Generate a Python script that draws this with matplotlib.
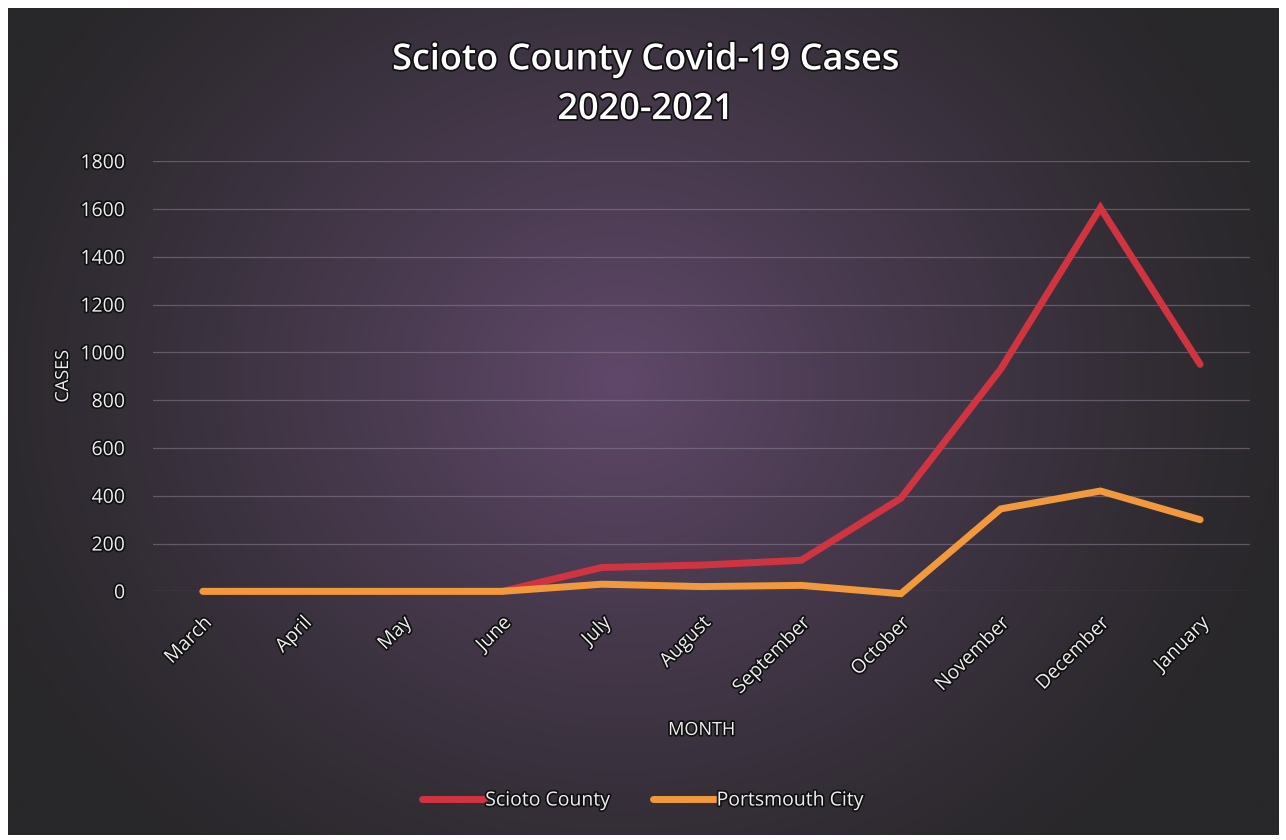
import numpy as np
import matplotlib
matplotlib.use("Agg")
import matplotlib.pyplot as plt
import matplotlib.patheffects as pe

months = ["March", "April", "May", "June", "July", "August",
          "September", "October", "November", "December", "January"]
scioto_county = [0, 0, 0, 0, 100, 110, 130, 390, 930, 1605, 950]
portsmouth_city = [0, 0, 0, 0, 30, 20, 25, -10, 345, 420, 300]
y_ticks = [0, 200, 400, 600, 800, 1000, 1200, 1400, 1600, 1800]

plt.rcParams["font.family"] = ["Open Sans", "DejaVu Sans"]

fig = plt.figure(figsize=(12.86, 8.4), dpi=100)
fig.patch.set_facecolor("white")

# ---------------------------------
# Background panel with radial glow
# ---------------------------------
bg = fig.add_axes([0.006, 0.006, 0.988, 0.985])
bg.set_axis_off()
h, w = 420, 640
yy, xx = np.mgrid[0:h, 0:w]
cx, cy = 0.48 * w, 0.45 * h
r = np.sqrt(((xx - cx) / (0.55 * w)) ** 2 + ((yy - cy) / (0.75 * h)) ** 2)
t = np.clip(1 - r, 0, 1) ** 1.2
edge = np.array([40, 39, 41]) / 255.0
center = np.array([96, 72, 106]) / 255.0
img = edge[None, None, :] + (center - edge)[None, None, :] * t[..., None]
bg.imshow(img, aspect="auto", extent=[0, 1, 0, 1])

shadow = [pe.withStroke(linewidth=2.5, foreground="#111111")]

# ---------------------------------
# Line chart
# ---------------------------------
ax = fig.add_axes([0.119, 0.296, 0.853, 0.512])
ax.patch.set_alpha(0)
x = np.arange(len(months))
ax.plot(x, scioto_county, color="#cf3440", lw=5, solid_capstyle="round",
        solid_joinstyle="miter", label="Scioto County", zorder=3, clip_on=False)
ax.plot(x, portsmouth_city, color="#f3993d", lw=5, solid_capstyle="round",
        solid_joinstyle="miter", label="Portsmouth City", zorder=4, clip_on=False)

ax.set_xlim(-0.5, len(months) - 0.5)
ax.set_ylim(0, 1800)
ax.set_yticks(y_ticks)
ax.set_xticks(x)
ax.set_xticklabels(months, rotation=45, ha="right", rotation_mode="anchor")
ax.grid(axis="y", color="#8a8090", lw=0.9, alpha=0.55)
ax.set_axisbelow(True)
for s in ax.spines.values():
    s.set_visible(False)
ax.tick_params(length=0, colors="#eeeeee", labelsize=14)
ax.tick_params(axis="x", pad=16)
ax.tick_params(axis="y", pad=20)
for lbl in ax.get_xticklabels() + ax.get_yticklabels():
    lbl.set_path_effects(shadow)

ax.set_ylabel("CASES", color="#eeeeee", fontsize=13, labelpad=6,
              path_effects=shadow)
ax.set_xlabel("MONTH", color="#eeeeee", fontsize=13, labelpad=17,
              path_effects=shadow)

fig.text(0.502, 0.928, "Scioto County Covid-19 Cases", ha="center", va="center",
         color="white", fontsize=26, fontweight="semibold", path_effects=shadow)
fig.text(0.502, 0.869, "2020-2021", ha="center", va="center",
         color="white", fontsize=26, fontweight="semibold", path_effects=shadow)

leg = fig.legend(loc="center", bbox_to_anchor=(0.5, 0.047), ncol=2,
                 frameon=False, fontsize=14, handlelength=3.2,
                 handletextpad=0.05, columnspacing=2.2)
for txt in leg.get_texts():
    txt.set_color("#eeeeee")
    txt.set_path_effects(shadow)

fig.savefig("out.png", dpi=100, facecolor="white")
